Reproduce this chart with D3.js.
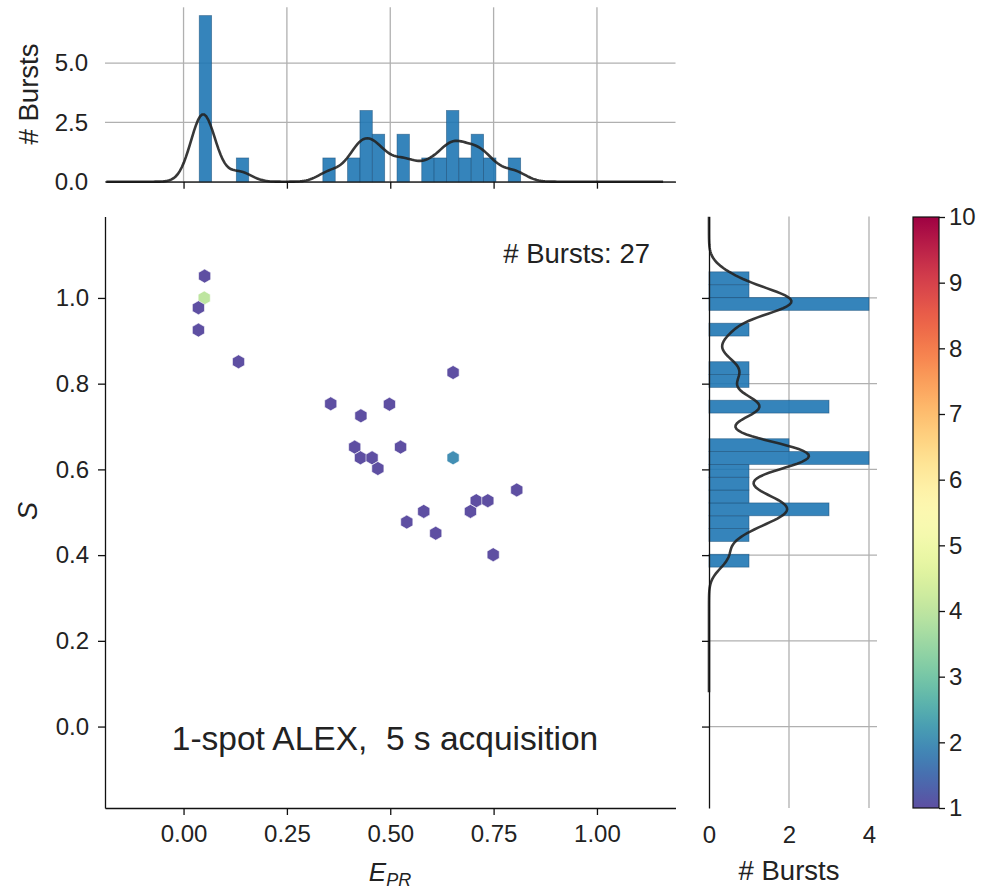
<!DOCTYPE html>
<html>
<head>
<meta charset="utf-8">
<script src="https://cdn.jsdelivr.net/npm/d3@7"></script>
<style>
body { margin: 0; background: #fff; }
text { font-family: "Liberation Sans", Arial, sans-serif; fill: #222; white-space: pre; }
</style>
</head>
<body>
<script>
var w = 987;
var h = 890;

// hexbin cells of the E-S map (centre + number of bursts)
var hexE = [0.051, 0.05, 0.036, 0.036, 0.133, 0.356, 0.429, 0.498, 0.652, 0.414, 0.428, 0.456,
            0.47, 0.525, 0.652, 0.806, 0.708, 0.736, 0.694, 0.581, 0.54, 0.61, 0.749];
var hexS = [1.051, 1.0, 0.977, 0.925, 0.851, 0.753, 0.725, 0.752, 0.826, 0.652, 0.627, 0.627,
            0.602, 0.652, 0.627, 0.552, 0.527, 0.527, 0.502, 0.502, 0.477, 0.451, 0.401];
var hexN = [1, 4, 1, 1, 1, 1, 1, 1, 1, 1, 1, 1, 1, 1, 2, 1, 1, 1, 1, 1, 1, 1, 1];

// single bursts, used for the KDE curves
var burstE = [0.052, 0.048, 0.055, 0.05, 0.045, 0.04, 0.042, 0.135, 0.355, 0.43, 0.48, 0.652, 0.412, 0.43,
              0.452, 0.47, 0.525, 0.645, 0.658, 0.8, 0.705, 0.72, 0.69, 0.585, 0.54, 0.615, 0.745];
var burstS = [1.045, 0.985, 0.995, 0.99, 1.01, 0.975, 0.925, 0.845, 0.752, 0.735, 0.75, 0.815, 0.655, 0.625,
              0.63, 0.6, 0.655, 0.62, 0.635, 0.557, 0.53, 0.515, 0.505, 0.5, 0.478, 0.452, 0.395];

// marginal histograms
var eBinStart = 0.038, eBinWidth = 0.0299;
var eCounts = [7, 0, 0, 1, 0, 0, 0, 0, 0, 0, 1, 0, 1, 3, 2, 0, 2, 0, 1, 1, 3, 1, 2, 1, 0, 1];
var sBinStart = 0.372, sBinWidth = 0.02995;
var sCounts = [1, 0, 1, 1, 3, 1, 1, 1, 4, 2, 0, 0, 3, 0, 1, 1, 0, 0, 1, 0, 4, 1, 1];

var eTicks = [0, 0.25, 0.5, 0.75, 1.0];
var sTicks = [0, 0.2, 0.4, 0.6, 0.8, 1.0];
var histTicks = [0, 2.5, 5.0];
var countTicks = [0, 2, 4];
var cbarTicks = [1, 2, 3, 4, 5, 6, 7, 8, 9, 10];

var kdeBwE = 0.029, kdeBwS = 0.028;

var barFill = "#1f77b4";
var gridColor = "#b0b0b0";
var fontSize = 24;
var labelSize = 27.5;

var svg = d3.select("body").append("svg").attr("width", w).attr("height", h);

// scales
var x = d3.scaleLinear().domain([-0.19, 1.19]).range([105, 675.5]);
var y = d3.scaleLinear().domain([-0.19, 1.19]).range([808, 216.5]);
var yTop = d3.scaleLinear().domain([0, 7.35]).range([181.7, 7.3]);
var xRight = d3.scaleLinear().domain([0, 4.2]).range([709, 877]);
var yCbar = d3.scaleLinear().domain([1, 10]).range([808, 217]);
var cmap = function (v) { return d3.interpolateSpectral(1 - (v - 1) / 9); };

function styleAxis(g) {
  g.attr("font-size", fontSize).attr("font-family", "Liberation Sans, Arial, sans-serif");
  g.selectAll("path").attr("stroke", "#111").attr("stroke-width", 1.3);
  g.selectAll("line").attr("stroke", "#111").attr("stroke-width", 1.3);
  g.selectAll("text").attr("fill", "#222");
}

// gaussian kde scaled to counts, like seaborn
function kde(data, bw, binW, lo, hi) {
  var pts = d3.range(0, 301).map(function (i) { return lo + (hi - lo) * i / 300; });
  return pts.map(function (p) {
    var s = d3.sum(data, function (d) {
      var z = (p - d) / bw;
      return Math.exp(-0.5 * z * z);
    });
    return [p, s / (bw * Math.sqrt(2 * Math.PI)) * binW];
  });
}

// ---------- top marginal (E) ----------
var topG = svg.append("g");
topG.selectAll(".vg").data(eTicks).enter().append("line")
  .attr("x1", x).attr("x2", x).attr("y1", 7.3).attr("y2", 181.7)
  .attr("stroke", gridColor).attr("stroke-width", 1.3);
topG.selectAll(".hg").data(histTicks).enter().append("line")
  .attr("x1", 105).attr("x2", 675.5).attr("y1", yTop).attr("y2", yTop)
  .attr("stroke", gridColor).attr("stroke-width", 1.3);

var eBars = eCounts.map(function (c, i) { return { c: c, lo: eBinStart + i * eBinWidth }; })
  .filter(function (d) { return d.c > 0; });
topG.selectAll(".bar").data(eBars).enter().append("rect")
  .attr("x", function (d) { return x(d.lo); })
  .attr("width", function (d) { return x(d.lo + eBinWidth) - x(d.lo); })
  .attr("y", function (d) { return yTop(d.c); })
  .attr("height", function (d) { return yTop(0) - yTop(d.c); })
  .attr("fill", barFill).attr("fill-opacity", 0.9)
  .attr("stroke", "#1a4f78").attr("stroke-opacity", 0.6).attr("stroke-width", 0.8);

var eLo = d3.min(burstE) - 3 * 0.12, eHi = d3.max(burstE) + 3 * 0.12;
var eKde = kde(burstE, kdeBwE, eBinWidth, eLo, eHi).filter(function (d) { return d[0] >= -0.19; });
topG.append("path").datum(eKde)
  .attr("d", d3.line().x(function (d) { return x(d[0]); }).y(function (d) { return yTop(d[1]); }))
  .attr("fill", "none").attr("stroke", "#222").attr("stroke-opacity", 0.9).attr("stroke-width", 2.6);

topG.append("g").attr("transform", "translate(0,181.7)")
  .call(d3.axisBottom(x).tickValues(eTicks).tickFormat("").tickSize(7).tickSizeOuter(0))
  .call(styleAxis);
topG.append("g").attr("transform", "translate(105,0)")
  .call(d3.axisLeft(yTop).tickValues(histTicks).tickFormat(d3.format(".1f")).tickSize(0).tickPadding(17))
  .call(styleAxis)
  .call(function (g) { g.select(".domain").remove(); });
topG.append("text").attr("transform", "translate(38,94) rotate(-90)")
  .attr("text-anchor", "middle").attr("font-size", labelSize).text("# Bursts");

// ---------- right marginal (S) ----------
var rightG = svg.append("g");
rightG.selectAll(".vg").data(countTicks.slice(1)).enter().append("line")
  .attr("x1", xRight).attr("x2", xRight).attr("y1", 216.5).attr("y2", 808)
  .attr("stroke", gridColor).attr("stroke-width", 1.3);
rightG.selectAll(".hg").data(sTicks).enter().append("line")
  .attr("x1", 709).attr("x2", 877).attr("y1", y).attr("y2", y)
  .attr("stroke", gridColor).attr("stroke-width", 1.3);

var sBars = sCounts.map(function (c, i) { return { c: c, lo: sBinStart + i * sBinWidth }; })
  .filter(function (d) { return d.c > 0; });
rightG.selectAll(".bar").data(sBars).enter().append("rect")
  .attr("x", xRight(0))
  .attr("width", function (d) { return xRight(d.c) - xRight(0); })
  .attr("y", function (d) { return y(d.lo + sBinWidth); })
  .attr("height", function (d) { return y(d.lo) - y(d.lo + sBinWidth); })
  .attr("fill", barFill).attr("fill-opacity", 0.9)
  .attr("stroke", "#1a4f78").attr("stroke-opacity", 0.6).attr("stroke-width", 0.8);

var sLo = d3.min(burstS) - 3 * 0.105, sHi = d3.max(burstS) + 3 * 0.105;
var sKde = kde(burstS, kdeBwS, sBinWidth, sLo, sHi).filter(function (d) { return d[0] <= 1.19; });
rightG.append("path").datum(sKde)
  .attr("d", d3.line().x(function (d) { return xRight(d[1]); }).y(function (d) { return y(d[0]); }))
  .attr("fill", "none").attr("stroke", "#222").attr("stroke-opacity", 0.9).attr("stroke-width", 2.6);

rightG.append("g").attr("transform", "translate(709,0)")
  .call(d3.axisLeft(y).tickValues(sTicks).tickFormat("").tickSize(7).tickSizeOuter(0))
  .call(styleAxis);
rightG.append("g").attr("transform", "translate(0,808)")
  .call(d3.axisBottom(xRight).tickValues(countTicks).tickFormat(d3.format("d")).tickSize(0).tickPadding(18))
  .call(styleAxis)
  .call(function (g) { g.select(".domain").remove(); });
rightG.append("text").attr("x", 789).attr("y", 880)
  .attr("text-anchor", "middle").attr("font-size", labelSize).text("# Bursts");

// ---------- main hexbin map ----------
var mainG = svg.append("g");
var r = 7;
var hexPts = d3.range(6).map(function (k) {
  var a = Math.PI / 3 * k + Math.PI / 6;
  return [r * Math.cos(a), r * Math.sin(a)];
});
var hexPath = "M" + hexPts.map(function (p) { return p.join(","); }).join("L") + "Z";
var cells = hexN.map(function (n, i) { return { e: hexE[i], s: hexS[i], n: n }; });
mainG.selectAll(".hex").data(cells).enter().append("path")
  .attr("d", hexPath)
  .attr("transform", function (d) { return "translate(" + x(d.e) + "," + y(d.s) + ")"; })
  .attr("fill", function (d) { return cmap(d.n); })
  .attr("stroke", "#fff").attr("stroke-width", 0.6);

mainG.append("g").attr("transform", "translate(0,808)")
  .call(d3.axisBottom(x).tickValues(eTicks).tickFormat(d3.format(".2f")).tickSize(7).tickSizeOuter(0).tickPadding(10))
  .call(styleAxis);
mainG.append("g").attr("transform", "translate(105,0)")
  .call(d3.axisLeft(y).tickValues(sTicks).tickFormat(d3.format(".1f")).tickSize(7).tickSizeOuter(0).tickPadding(9))
  .call(styleAxis);

mainG.append("text").attr("x", 650).attr("y", 263)
  .attr("text-anchor", "end").attr("font-size", 27.5).text("# Bursts: 27");
mainG.append("text").attr("x", 385).attr("y", 750)
  .attr("text-anchor", "middle").attr("font-size", 33.5).text("1-spot ALEX,  5 s acquisition");

var xl = mainG.append("text").attr("x", 390).attr("y", 881).attr("text-anchor", "middle")
  .attr("font-size", 26).attr("font-style", "italic");
xl.append("tspan").text("E");
xl.append("tspan").attr("font-size", 18).attr("dy", 5).text("PR");
mainG.append("text").attr("transform", "translate(37,511) rotate(-90)")
  .attr("text-anchor", "middle").attr("font-size", 27).attr("font-style", "italic").text("S");

// ---------- colorbar ----------
var defs = svg.append("defs");
var grad = defs.append("linearGradient").attr("id", "cb")
  .attr("x1", 0).attr("y1", 1).attr("x2", 0).attr("y2", 0);
grad.selectAll("stop").data(d3.range(0, 1.0001, 0.02)).enter().append("stop")
  .attr("offset", function (t) { return t; })
  .attr("stop-color", function (t) { return cmap(1 + 9 * t); });
svg.append("rect").attr("x", 913).attr("y", yCbar(10)).attr("width", 26)
  .attr("height", yCbar(1) - yCbar(10)).attr("fill", "url(#cb)")
  .attr("stroke", "#111").attr("stroke-width", 1.2);
svg.append("g").attr("transform", "translate(939,0)")
  .call(d3.axisRight(yCbar).tickValues(cbarTicks).tickFormat(d3.format("d")).tickSize(6).tickSizeOuter(0).tickPadding(4))
  .call(styleAxis)
  .call(function (g) { g.select(".domain").remove(); });
</script>
</body>
</html>
